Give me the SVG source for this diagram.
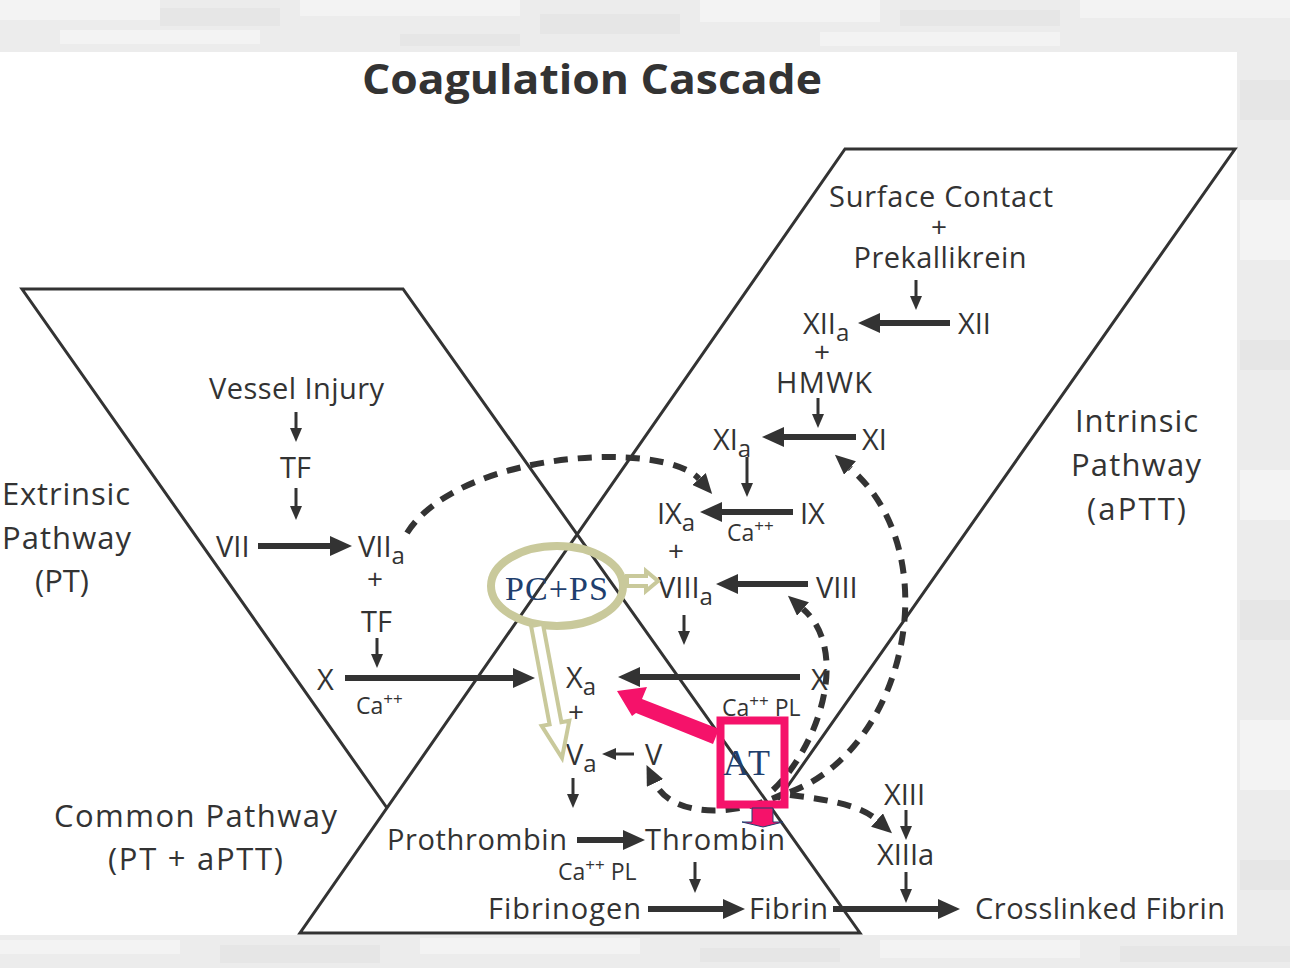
<svg xmlns="http://www.w3.org/2000/svg" width="1290" height="968" viewBox="0 0 1290 968">
<defs>
<style>
.t{font-family:"Open Sans","Liberation Sans",sans-serif;font-size:29px;fill:#333}
.p{font-family:"Open Sans","Liberation Sans",sans-serif;font-size:28px;fill:#333}
.lbl{font-family:"Open Sans","Liberation Sans",sans-serif;font-size:31px;fill:#333}
.sm{font-family:"Open Sans","Liberation Sans",sans-serif;font-size:23px;fill:#333}
.sup{font-size:17px}
.sub{font-size:24px}
.ser{font-family:"Liberation Serif","Times New Roman",serif;fill:#1f3f6e}
.frame{fill:none;stroke:#333;stroke-width:3}
.thick{stroke:#333;stroke-width:6;fill:none;marker-end:url(#ah)}
.thin{stroke:#333;stroke-width:3;fill:none;marker-end:url(#as)}
.dash{stroke:#333;stroke-width:6;fill:none;stroke-dasharray:14 10;marker-end:url(#ad)}
.khaki{fill:#fff;stroke:#c9c99b;stroke-width:4;stroke-linejoin:miter}
.bg1{fill:#f3f3f3}
.bg2{fill:#e6e6e6}
</style>
<marker id="ah" viewBox="0 0 22 20" refX="0" refY="10" markerWidth="22" markerHeight="20" markerUnits="userSpaceOnUse" orient="auto"><path d="M0,0 L22,10 L0,20 z" fill="#333"/></marker>
<marker id="as" viewBox="0 0 14 12" refX="0" refY="6" markerWidth="14" markerHeight="12" markerUnits="userSpaceOnUse" orient="auto"><path d="M0,0 L14,6 L0,12 z" fill="#333"/></marker>
<marker id="ad" viewBox="0 0 20 18" refX="0" refY="9" markerWidth="20" markerHeight="18" markerUnits="userSpaceOnUse" orient="auto"><path d="M0,0 L20,9 L0,18 z" fill="#333"/></marker>
</defs>

<g id="background">
<rect x="0" y="0" width="1290" height="968" fill="#ececec"/>
<rect class="bg1" x="0" y="0" width="160" height="20"/>
<rect class="bg2" x="160" y="8" width="120" height="18"/>
<rect class="bg1" x="300" y="0" width="220" height="16"/>
<rect class="bg2" x="540" y="14" width="140" height="20"/>
<rect class="bg1" x="700" y="0" width="180" height="22"/>
<rect class="bg2" x="900" y="10" width="160" height="16"/>
<rect class="bg1" x="1080" y="0" width="210" height="18"/>
<rect class="bg1" x="60" y="30" width="200" height="14"/>
<rect class="bg2" x="400" y="34" width="120" height="12"/>
<rect class="bg1" x="820" y="32" width="240" height="14"/>
<rect class="bg2" x="1240" y="80" width="50" height="40"/>
<rect class="bg1" x="1240" y="200" width="50" height="60"/>
<rect class="bg2" x="1240" y="340" width="50" height="30"/>
<rect class="bg1" x="1240" y="470" width="50" height="50"/>
<rect class="bg2" x="1240" y="600" width="50" height="40"/>
<rect class="bg1" x="1240" y="720" width="50" height="70"/>
<rect class="bg2" x="1240" y="860" width="50" height="30"/>
<rect class="bg1" x="0" y="940" width="180" height="14"/>
<rect class="bg2" x="220" y="945" width="160" height="18"/>
<rect class="bg1" x="420" y="938" width="220" height="16"/>
<rect class="bg2" x="700" y="948" width="140" height="14"/>
<rect class="bg1" x="880" y="940" width="200" height="18"/>
<rect class="bg2" x="1120" y="946" width="170" height="16"/>
<rect x="0" y="52" width="1237" height="883" fill="#fff"/>
</g>

<text x="592" y="94" text-anchor="middle" font-family="'Open Sans','Liberation Sans',sans-serif" font-weight="bold" font-size="42" fill="#333" textLength="460" lengthAdjust="spacingAndGlyphs">Coagulation Cascade</text>

<g id="frames">
<path class="frame" d="M387,808 L22,289 L403,289 L860,933 L300,933 L845,149 L1235,149 L778,800"/>
</g>

<g id="extrinsic">
<text class="lbl" x="2" y="505" textLength="128">Extrinsic</text>
<text class="lbl" x="2" y="549" textLength="129">Pathway</text>
<text class="lbl" x="35" y="592">(PT)</text>
</g>
<g id="intrinsic">
<text class="lbl" x="1075" y="432" textLength="123">Intrinsic</text>
<text class="lbl" x="1071" y="476" textLength="130">Pathway</text>
<text class="lbl" x="1087" y="520" textLength="99">(aPTT)</text>
</g>
<g id="common">
<text class="lbl" x="54" y="827" textLength="283">Common Pathway</text>
<text class="lbl" x="108" y="870" textLength="175">(PT + aPTT)</text>
</g>

<g id="n-surface"><text class="t" x="941" y="207" text-anchor="middle" textLength="224">Surface Contact</text><text class="p" x="939" y="237" text-anchor="middle">+</text><text class="t" x="940" y="268" text-anchor="middle" textLength="173">Prekallikrein</text></g>
<g id="n-xiia"><text class="t" x="803" y="334">XII<tspan class="sub" dy="7">a</tspan></text><text class="p" x="822" y="362" text-anchor="middle">+</text><text class="t" x="824" y="393" text-anchor="middle" textLength="96">HMWK</text></g>
<g id="n-xii"><text class="t" x="958" y="334">XII</text></g>
<g id="n-xia"><text class="t" x="713" y="450">XI<tspan class="sub" dy="7">a</tspan></text></g>
<g id="n-xi"><text class="t" x="862" y="450">XI</text></g>
<g id="n-ixa"><text class="t" x="657" y="524">IX<tspan class="sub" dy="7">a</tspan></text><text class="p" x="676" y="561" text-anchor="middle">+</text></g>
<g id="n-ix"><text class="t" x="800" y="524">IX</text><text class="sm" x="727" y="541">Ca<tspan class="sup" dy="-9">++</tspan></text></g>
<g id="n-viiia"><text class="t" x="658" y="598">VIII<tspan class="sub" dy="7">a</tspan></text></g>
<g id="n-viii"><text class="t" x="816" y="598">VIII</text></g>
<g id="n-xa"><text class="t" x="566" y="688">X<tspan class="sub" dy="7">a</tspan></text><text class="p" x="576" y="722" text-anchor="middle">+</text></g>
<g id="n-x-int"><text class="t" x="811" y="690">X</text><text class="sm" x="722" y="716">Ca<tspan class="sup" dy="-9">++</tspan><tspan dy="9"> PL</tspan></text></g>
<g id="n-va"><text class="t" x="566" y="765">V<tspan class="sub" dy="7">a</tspan></text></g>
<g id="n-v"><text class="t" x="645" y="765">V</text></g>
<g id="n-prothrombin"><text class="t" x="387" y="850" textLength="180">Prothrombin</text><text class="sm" x="558" y="880">Ca<tspan class="sup" dy="-9">++</tspan><tspan dy="9"> PL</tspan></text></g>
<g id="n-thrombin"><text class="t" x="645" y="850" textLength="140">Thrombin</text></g>
<g id="n-fibrinogen"><text class="t" x="488" y="919" textLength="153">Fibrinogen</text></g>
<g id="n-fibrin"><text class="t" x="749" y="919" textLength="79">Fibrin</text></g>
<g id="n-crosslinked"><text class="t" x="975" y="919" textLength="250">Crosslinked Fibrin</text></g>
<g id="n-xiii"><text class="t" x="884" y="805">XIII</text></g>
<g id="n-xiiia"><text class="t" x="877" y="865">XIIIa</text></g>
<g id="n-vessel"><text class="t" x="209" y="399" textLength="175">Vessel Injury</text></g>
<g id="n-tf1"><text class="t" x="280" y="478">TF</text></g>
<g id="n-vii"><text class="t" x="216" y="557">VII</text></g>
<g id="n-viia"><text class="t" x="358" y="557">VII<tspan class="sub" dy="7">a</tspan></text><text class="p" x="375" y="589" text-anchor="middle">+</text><text class="t" x="361" y="632">TF</text></g>
<g id="n-x-ext"><text class="t" x="317" y="690">X</text><text class="sm" x="356" y="714">Ca<tspan class="sup" dy="-9">++</tspan></text></g>

<g id="connectors">
<line class="thick" x1="950" y1="323" x2="880" y2="323"/>
<line class="thick" x1="856" y1="437" x2="784" y2="437"/>
<line class="thick" x1="793" y1="512" x2="722" y2="512"/>
<line class="thick" x1="808" y1="584" x2="738" y2="584"/>
<line class="thick" x1="800" y1="677" x2="640" y2="677"/>
<line class="thick" x1="258" y1="546" x2="330" y2="546"/>
<line class="thick" x1="345" y1="678" x2="513" y2="678"/>
<line class="thick" x1="577" y1="840" x2="623" y2="840"/>
<line class="thick" x1="648" y1="909" x2="723" y2="909"/>
<line class="thick" x1="833" y1="909" x2="938" y2="909"/>
<line class="thin" x1="916" y1="280" x2="916" y2="296"/>
<line class="thin" x1="818" y1="398" x2="818" y2="414"/>
<line class="thin" x1="747" y1="457" x2="747" y2="483"/>
<line class="thin" x1="684" y1="615" x2="684" y2="631"/>
<line class="thin" x1="573" y1="778" x2="573" y2="794"/>
<line class="thin" x1="695" y1="862" x2="695" y2="879"/>
<line class="thin" x1="906" y1="810" x2="906" y2="826"/>
<line class="thin" x1="906" y1="872" x2="906" y2="889"/>
<line class="thin" x1="296" y1="412" x2="296" y2="428"/>
<line class="thin" x1="296" y1="488" x2="296" y2="506"/>
<line class="thin" x1="377" y1="638" x2="377" y2="654"/>
<line class="thin" x1="634" y1="754" x2="616" y2="754"/>
<path class="dash" d="M407,533 C460,450 665,440 699,479"/>
<path class="dash" d="M790,792 C905,750 950,555 850,468"/>
<path class="dash" d="M773,790 C820,745 850,650 803,609"/>
<path class="dash" d="M785,793 C730,820 670,815 655,783"/>
<path class="dash" d="M790,795 C830,800 860,805 877,820"/>
</g>

<g id="pcps">
<ellipse cx="557" cy="586" rx="66" ry="40" fill="none" stroke="#c9c99b" stroke-width="8"/>
<text class="ser" x="505" y="600" font-size="34" textLength="103">PC+PS</text>
<polygon class="khaki" points="627,576 646,576 646,571 658,581 646,591 646,586 627,586"/>
<polygon class="khaki" points="542.9,623.9 561.4,722.2 569.3,720.7 562,758 541.7,725.9 549.6,724.4 531.1,626.1"/>
</g>

<g id="at">
<polygon points="617,691 647,687 642,699 719,729 713,744 636,713 632,716" fill="#f5126a"/>
<rect x="720.5" y="720.5" width="64" height="84" fill="none" stroke="#f5126a" stroke-width="8"/>
<text class="ser" x="723" y="775" font-size="36" textLength="47">AT</text>
<polygon points="752,808 773,808 773,822 783,822 763,827 742,822 752,822" fill="#f5126a" stroke="#1f3f6e" stroke-width="1"/>
</g>
</svg>
